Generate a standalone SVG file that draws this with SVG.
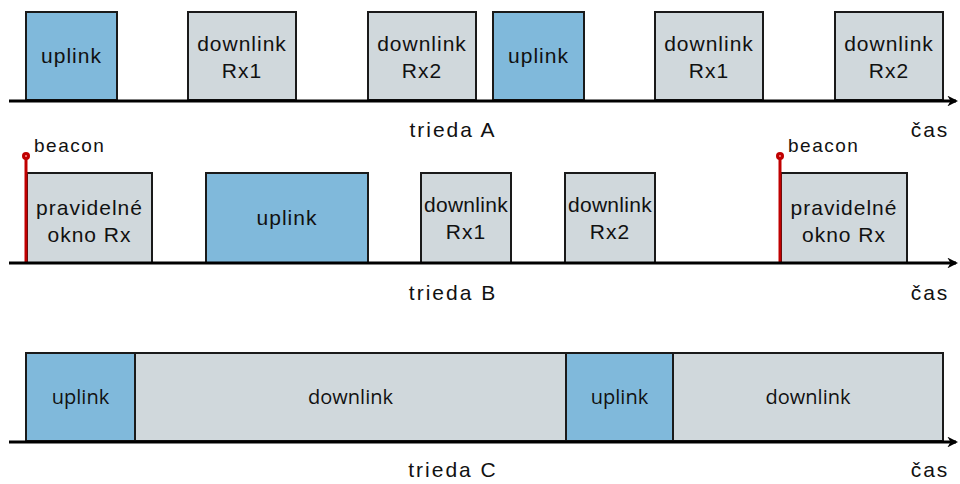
<svg xmlns="http://www.w3.org/2000/svg" width="960" height="484" viewBox="0 0 960 484">
<defs>
<style>
.up{fill:#80b9db;stroke:#1a1a1a;stroke-width:2}
.dn{fill:#d0d8dc;stroke:#1a1a1a;stroke-width:2}
.t{font-family:"Liberation Sans",Arial,sans-serif;font-size:21px;letter-spacing:1px;fill:#111;text-anchor:middle}
.lb{font-family:"Liberation Sans",Arial,sans-serif;font-size:21px;letter-spacing:2px;fill:#111;text-anchor:middle}
.tc{font-family:"Open Sans","Noto Sans",sans-serif;font-size:20px;fill:#111;text-anchor:middle}
.bt{font-family:"Liberation Sans",Arial,sans-serif;font-size:19px;letter-spacing:1.5px;fill:#111}
.ax{stroke:#000;stroke-width:3;fill:none}
.bc{stroke:#c00000;stroke-width:3}
</style>
<marker id="arr" viewBox="0 0 10 10" refX="8" refY="5" markerWidth="3.6" markerHeight="3.6" orient="auto" markerUnits="strokeWidth">
<path d="M0,0 L10,5 L0,10 L3,5 Z" fill="#000"/>
</marker>
</defs>
<rect width="960" height="484" fill="#fff"/>

<g id="rowA">
<g id="a-up1"><rect class="up" x="26" y="12" width="91" height="88"/><text class="t" x="71.5" y="63">uplink</text></g>
<g id="a-rx1"><rect class="dn" x="188" y="12" width="108" height="88"/><text class="t" x="242" y="51">downlink</text><text class="t" x="242" y="78">Rx1</text></g>
<g id="a-rx2"><rect class="dn" x="368" y="12" width="108" height="88"/><text class="t" x="422" y="51">downlink</text><text class="t" x="422" y="78">Rx2</text></g>
<g id="a-up2"><rect class="up" x="493" y="12" width="91" height="88"/><text class="t" x="538.5" y="63">uplink</text></g>
<g id="a-rx1b"><rect class="dn" x="655" y="12" width="108" height="88"/><text class="t" x="709" y="51">downlink</text><text class="t" x="709" y="78">Rx1</text></g>
<g id="a-rx2b"><rect class="dn" x="835" y="12" width="108" height="88"/><text class="t" x="889" y="51">downlink</text><text class="t" x="889" y="78">Rx2</text></g>
<text class="lb" x="453" y="137">trieda A</text>
<text class="lb" x="930" y="137">čas</text>
</g>

<g id="rowB">
<g id="b-rx0"><rect class="dn" x="27" y="173" width="125" height="90"/><text class="t" x="89.5" y="215">pravidelné</text><text class="t" x="89.5" y="242">okno Rx</text></g>
<g id="b-up"><rect class="up" x="206" y="173" width="162" height="90"/><text class="t" x="287" y="225">uplink</text></g>
<g id="b-rx1"><rect class="dn" x="421" y="173" width="90" height="90"/><text class="t" x="466" y="212" style="letter-spacing:0.3px">downlink</text><text class="t" x="466" y="239">Rx1</text></g>
<g id="b-rx2"><rect class="dn" x="565" y="173" width="90" height="90"/><text class="t" x="610" y="212" style="letter-spacing:0.3px">downlink</text><text class="t" x="610" y="239">Rx2</text></g>
<g id="b-rx0b"><rect class="dn" x="781" y="173" width="126" height="90"/><text class="t" x="844" y="215">pravidelné</text><text class="t" x="844" y="242">okno Rx</text></g>
<g id="beacon1"><line class="bc" x1="26" y1="156" x2="26" y2="263"/><circle cx="26" cy="156" r="4" fill="#c00000"/><circle cx="26" cy="156" r="1" fill="#ff9090"/><text class="bt" x="34" y="152">beacon</text></g>
<g id="beacon2"><line class="bc" x1="780" y1="156" x2="780" y2="263"/><circle cx="780" cy="156" r="4" fill="#c00000"/><circle cx="780" cy="156" r="1" fill="#ff9090"/><text class="bt" x="788" y="152">beacon</text></g>
<text class="lb" x="453" y="300">trieda B</text>
<text class="lb" x="930" y="300">čas</text>
</g>

<g id="rowC">
<g id="c-up1"><rect class="up" x="26" y="353" width="109" height="88"/><text class="tc" x="80.5" y="404">uplink</text></g>
<g id="c-dn1"><rect class="dn" x="135" y="353" width="431" height="88"/><text class="tc" x="350.5" y="404">downlink</text></g>
<g id="c-up2"><rect class="up" x="566" y="353" width="107" height="88"/><text class="tc" x="619.5" y="404">uplink</text></g>
<g id="c-dn2"><rect class="dn" x="673" y="353" width="270" height="88"/><text class="tc" x="808" y="404">downlink</text></g>
<text class="lb" x="453" y="477">trieda C</text>
<text class="lb" x="930" y="477">čas</text>
</g>

<g id="connectors">
<line class="ax" x1="9" y1="101" x2="956" y2="101" marker-end="url(#arr)"/>
<line class="ax" x1="9" y1="263" x2="956" y2="263" marker-end="url(#arr)"/>
<line class="ax" x1="9" y1="442" x2="956" y2="442" marker-end="url(#arr)"/>
</g>
</svg>
